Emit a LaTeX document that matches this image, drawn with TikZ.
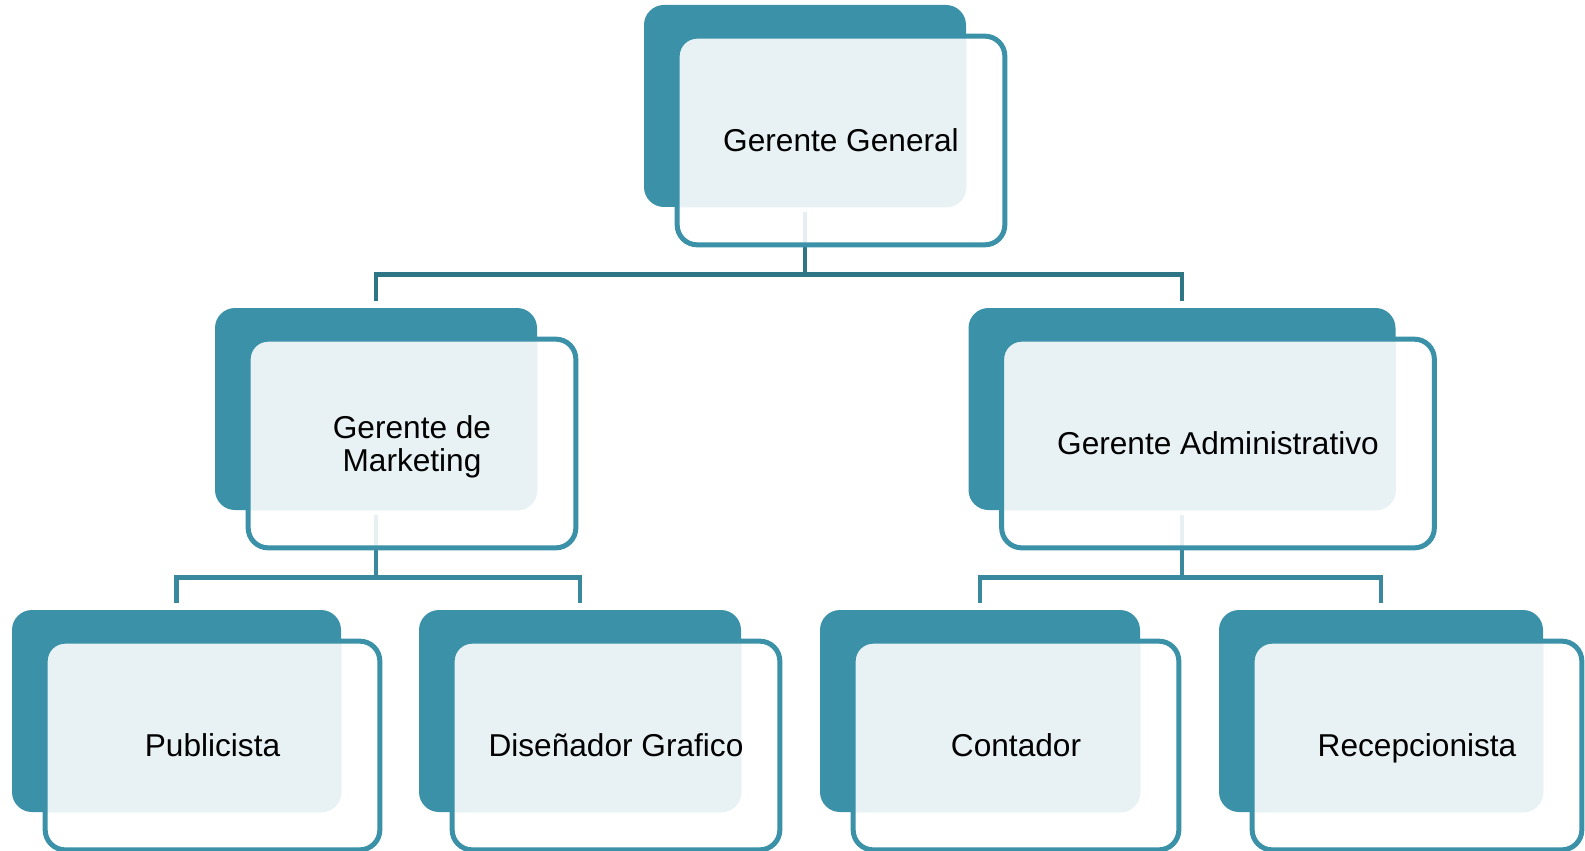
\documentclass[tikz,border=0pt]{standalone}
\usepackage{fontspec}
\setmainfont{Liberation Sans}
\usepackage{xcolor}
\usetikzlibrary{calc, positioning, backgrounds}
\definecolor{orgteal}{HTML}{3B91A7}
\definecolor{orglight}{HTML}{E8F2F5}
\definecolor{orglinetop}{HTML}{2E7686}
\definecolor{orgline}{HTML}{3A889D}

\tikzset{
  backbox/.style={fill=orgteal, rounded corners=0.4cm, minimum height=202*0.02cm, inner sep=0pt},
  frontbox/.style={fill=white, fill opacity=0.88, rounded corners=0.4cm, minimum height=208*0.02cm, inner sep=0pt},
  frontline/.style={draw=orgteal, line width=0.1cm, rounded corners=0.4cm},
  boxtext/.style={font=\fontsize{18}{18.8}\selectfont, align=center, text=black, text depth=0pt},
  conn/.style={draw=orgline, line width=0.09cm},
}

% name, x, y (centre of the dark box, px), width (px), text
\newcommand{\orgbox}[5]{%
  \node[backbox, minimum width=#4*0.02cm] (#1-b) at (#2,#3) {};
  \node[frontbox, minimum width=#4*0.02cm+0.1cm] (#1) at ($(#1-b)+(36,34.5)$) {};
  \begin{scope}
    \clip[rounded corners=0.4cm] (#1.north west) rectangle (#1.south east);
    \fill[orglight, rounded corners=0.4cm] (#1-b.north west) rectangle (#1-b.south east);
  \end{scope}
  \draw[frontline] (#1.north west) rectangle (#1.south east);
  \node[boxtext] (#1-t) at (#1) {#5};
}

\begin{document}
\begin{tikzpicture}[x=0.02cm, y=-0.02cm]
  \useasboundingbox (0,0) rectangle (1585,851);

  % top
  \orgbox{gg}{805}{106}{322}{Gerente General}
  % second row
  \orgbox{gm}{376}{409}{322}{Gerente de\\Marketing}
  \orgbox{ga}{1182}{409}{427}{Gerente Administrativo}
  % third row
  \orgbox{pub}{176.5}{711}{329}{Publicista}
  \orgbox{dis}{580}{711}{322}{Diseñador Grafico}
  \orgbox{con}{980}{711}{320}{Contador}
  \orgbox{rec}{1381}{711}{324}{Recepcionista}

  \begin{scope}[on background layer]
    \coordinate (bus1) at ($(gg-b.south)+(0,67)$);
    \coordinate (bus2) at ($(gm-b.south)+(0,67)$);
    \coordinate (bus3) at ($(ga-b.south)+(0,67)$);

    \draw[conn, draw=orglinetop, shorten <=0.1cm] (gg-b.south) -- (bus1);
    \draw[conn, draw=orglinetop, shorten <=0.14cm, shorten >=0.14cm] (gm-b.north) |- (bus1) -| (ga-b.north);

    \draw[conn, shorten <=0.1cm] (gm-b.south) -- (bus2);
    \draw[conn, shorten <=0.13cm, shorten >=0.13cm] (pub-b.north) |- (bus2) -| (dis-b.north);

    \draw[conn, shorten <=0.1cm] (ga-b.south) -- (bus3);
    \draw[conn, shorten <=0.13cm, shorten >=0.13cm] (con-b.north) |- (bus3) -| (rec-b.north);
  \end{scope}
\end{tikzpicture}
\end{document}
